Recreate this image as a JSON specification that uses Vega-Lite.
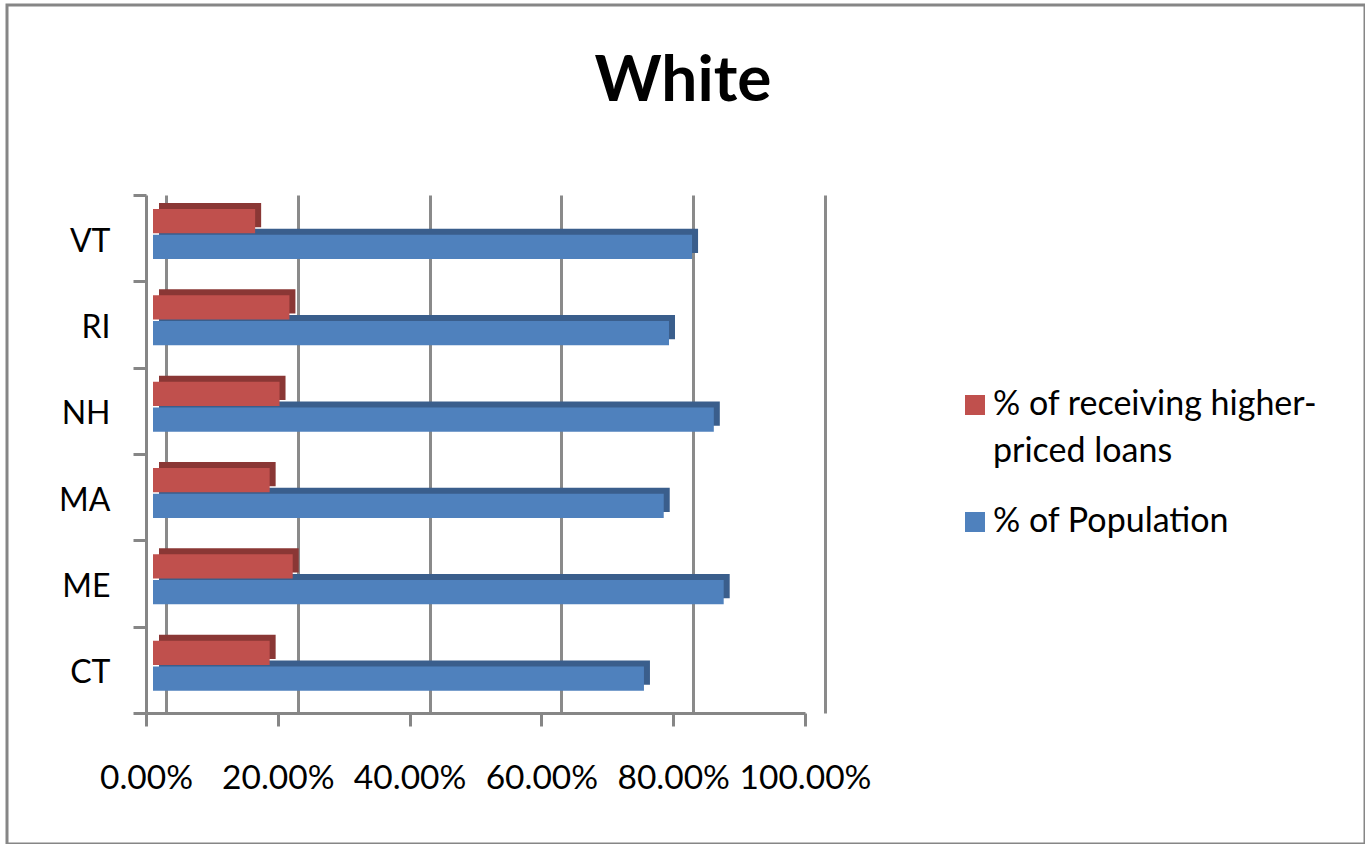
{
  "$schema": "https://vega.github.io/schema/vega-lite/v6.json",
  "width": 1358,
  "height": 839,
  "autosize": "none",
  "padding": {"left": 7, "top": 5, "right": 0, "bottom": 0},
  "background": "white",
  "title": {
    "text": "White",
    "font": "Lato",
    "fontSize": 64,
    "fontWeight": "bold",
    "color": "black",
    "anchor": "middle",
    "frame": "group",
    "baseline": "alphabetic",
    "offset": -80,
    "dy": 96,
    "dx": -3
  },
  "data": {
    "values": [
      {"state": "VT", "series": "% of receiving higher-priced loans", "value": 0.155},
      {"state": "VT", "series": "% of Population", "value": 0.818},
      {"state": "RI", "series": "% of receiving higher-priced loans", "value": 0.207},
      {"state": "RI", "series": "% of Population", "value": 0.783},
      {"state": "NH", "series": "% of receiving higher-priced loans", "value": 0.192},
      {"state": "NH", "series": "% of Population", "value": 0.851},
      {"state": "MA", "series": "% of receiving higher-priced loans", "value": 0.177},
      {"state": "MA", "series": "% of Population", "value": 0.775},
      {"state": "ME", "series": "% of receiving higher-priced loans", "value": 0.212},
      {"state": "ME", "series": "% of Population", "value": 0.866},
      {"state": "CT", "series": "% of receiving higher-priced loans", "value": 0.177},
      {"state": "CT", "series": "% of Population", "value": 0.745}
    ]
  },
  "layer": [
    {
      "description": "Darker copy of each bar, shifted up and right, giving the bars their depth faces",
      "mark": {"type": "bar", "xOffset": 13, "x2Offset": 13},
      "encoding": {
        "y": {
          "field": "state",
          "type": "nominal",
          "sort": ["VT", "RI", "NH", "MA", "ME", "CT"],
          "scale": {"range": [190, 708], "paddingInner": 0, "paddingOuter": 0},
          "axis": {
            "title": null,
            "offset": -139,
            "tickBand": "extent",
            "tickSize": 13,
            "tickWidth": 3,
            "tickColor": "#868686",
            "domainColor": "#868686",
            "domainWidth": 3,
            "labelPadding": 23,
            "labelOffset": 3,
            "labelFont": "Lato",
            "labelFontSize": 32,
            "labelColor": "black",
            "grid": false
          }
        },
        "yOffset": {
          "field": "series",
          "type": "nominal",
          "sort": ["% of receiving higher-priced loans", "% of Population"],
          "scale": {"range": [8, 58], "paddingInner": 0.06}
        },
        "x": {
          "field": "value",
          "type": "quantitative",
          "scale": {"domain": [0, 1], "range": [139, 798]},
          "axis": {
            "orient": "top",
            "title": null,
            "values": [0, 0.2, 0.4, 0.6, 0.8, 1],
            "grid": true,
            "gridColor": "#8a8a8a",
            "gridWidth": 3,
            "tickOffset": 20,
            "labels": false,
            "ticks": false,
            "domain": false
          }
        },
        "color": {
          "field": "series",
          "type": "nominal",
          "scale": {
            "domain": ["% of receiving higher-priced loans", "% of Population"],
            "range": ["#8A3735", "#3A5E8C"]
          },
          "legend": null
        }
      }
    },
    {
      "description": "Front faces of the bars",
      "mark": {"type": "bar", "xOffset": 7, "x2Offset": 7},
      "encoding": {
        "y": {
          "field": "state",
          "type": "nominal",
          "sort": ["VT", "RI", "NH", "MA", "ME", "CT"],
          "scale": {"range": [190, 708], "paddingInner": 0, "paddingOuter": 0},
          "axis": {
            "title": null,
            "offset": -139,
            "tickBand": "extent",
            "tickSize": 13,
            "tickWidth": 3,
            "tickColor": "#868686",
            "domainColor": "#868686",
            "domainWidth": 3,
            "labelPadding": 23,
            "labelOffset": 3,
            "labelFont": "Lato",
            "labelFontSize": 32,
            "labelColor": "black",
            "grid": false
          }
        },
        "yOffset": {
          "field": "series",
          "type": "nominal",
          "sort": ["% of receiving higher-priced loans", "% of Population"],
          "scale": {"range": [14, 64], "paddingInner": 0.06}
        },
        "x": {
          "field": "value",
          "type": "quantitative",
          "scale": {"domain": [0, 1], "range": [139, 798]},
          "axis": {
            "orient": "bottom",
            "title": null,
            "values": [0, 0.2, 0.4, 0.6, 0.8, 1],
            "format": ".2%",
            "grid": false,
            "offset": -131,
            "tickSize": 13,
            "tickWidth": 3,
            "tickColor": "#868686",
            "domainColor": "#868686",
            "domainWidth": 3,
            "labelPadding": 36,
            "labelFlush": false,
            "labelOverlap": false,
            "labelFont": "Lato",
            "labelFontSize": 33.5,
            "labelColor": "black"
          }
        },
        "color": {
          "field": "series",
          "type": "nominal",
          "scale": {
            "domain": ["% of receiving higher-priced loans", "% of Population"],
            "range": ["#C0504D", "#4F81BD"]
          },
          "legend": {
            "orient": "none",
            "legendX": 951,
            "legendY": 383,
            "title": null,
            "padding": 0,
            "symbolType": "square",
            "symbolSize": 400,
            "symbolStrokeWidth": 0,
            "labelFont": "Lato",
            "labelFontSize": 34,
            "labelColor": "black",
            "labelOffset": 1,
            "labelLimit": 0,
            "rowPadding": 36,
            "labelExpr": "indexof(datum.label, 'higher-') > 0 ? ['% of receiving higher-', 'priced loans'] : datum.label"
          }
        }
      }
    }
  ],
  "resolve": {
    "scale": {"yOffset": "independent", "color": "independent"},
    "axis": {"x": "independent"},
    "legend": {"color": "independent"}
  },
  "config": {
    "view": {"stroke": "#868686", "strokeWidth": 3},
    "font": "Lato",
    "style": {"guide-label": {"lineHeight": 47}}
  }
}
